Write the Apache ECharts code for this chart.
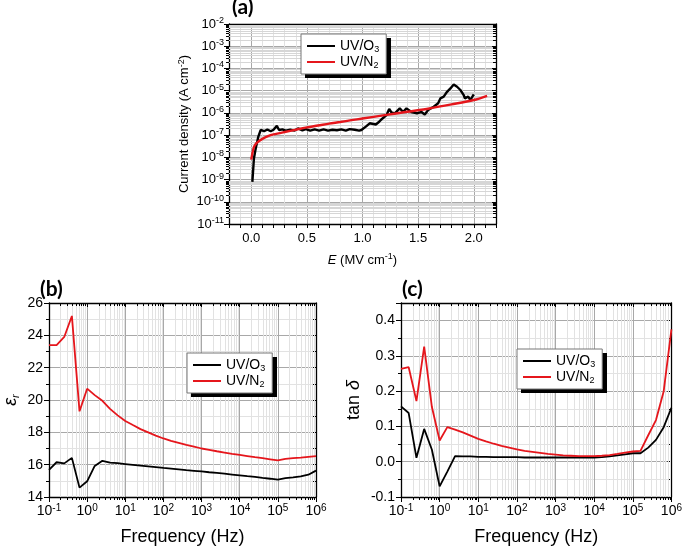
<!DOCTYPE html>
<html><head><meta charset="utf-8">
<script src="https://cdn.jsdelivr.net/npm/echarts@6/dist/echarts.min.js"></script>
<style>html,body{margin:0;padding:0;background:#fff}#c{width:685px;height:547px}</style>
</head><body><div id="c"></div>
<script>
// ---------- DATA ----------
const seriesNames = ['UV/O3', 'UV/N2'];
// Panel (a): current density vs field
const eO3 = [0.01,0.024,0.04,0.063,0.085,0.115,0.145,0.175,0.2,0.23,0.25,0.28,0.31,0.35,0.39,0.42,0.46,0.49,0.53,0.57,0.61,0.65,0.69,0.73,0.77,0.81,0.85,0.885,0.93,0.97,0.99,1.03,1.065,1.08,1.12,1.15,1.18,1.215,1.24,1.26,1.29,1.335,1.365,1.395,1.44,1.49,1.53,1.56,1.59,1.64,1.68,1.70,1.73,1.76,1.79,1.82,1.85,1.88,1.91,1.92,1.95,1.97,2.0];
const jO3 = [7.9e-10,8.9e-9,2.5e-8,8.3e-8,1.7e-7,1.5e-7,1.8e-7,1.5e-7,1.75e-7,2.6e-7,1.7e-7,1.8e-7,1.6e-7,1.75e-7,1.6e-7,2.0e-7,1.65e-7,1.85e-7,1.6e-7,1.8e-7,1.6e-7,1.8e-7,1.6e-7,1.75e-7,1.65e-7,1.8e-7,1.6e-7,1.85e-7,1.75e-7,1.6e-7,1.7e-7,2.4e-7,3.4e-7,3.7e-7,3.0e-7,4.0e-7,5.6e-7,7.9e-7,1.5e-6,1.05e-6,9.5e-7,1.6e-6,1.1e-6,1.6e-6,1.1e-6,9.5e-7,1.1e-6,8.5e-7,1.35e-6,1.9e-6,2.7e-6,4.5e-6,5.4e-6,8.9e-6,1.26e-5,1.9e-5,1.5e-5,1.07e-5,6.3e-6,4.5e-6,5.4e-6,3.8e-6,6.8e-6];
const eN2 = [0.0,0.02,0.04,0.07,0.1,0.15,0.2,0.3,0.4,0.5,0.6,0.7,0.8,0.9,1.0,1.2,1.4,1.6,1.8,2.0,2.12];
const jN2 = [7.9e-9,2.5e-8,4.0e-8,5.4e-8,6.8e-8,8.9e-8,1.07e-7,1.38e-7,1.74e-7,2.24e-7,2.7e-7,3.3e-7,3.9e-7,4.7e-7,5.6e-7,7.9e-7,1.12e-6,1.58e-6,2.4e-6,3.8e-6,5.9e-6];
// Panels (b), (c): frequency sweep
const freq = [0.1,0.158,0.251,0.398,0.631,1,1.58,2.51,3.98,6.31,10,15.8,25.1,39.8,63.1,100,158,251,398,631,1e3,1.58e3,2.51e3,3.98e3,6.31e3,1e4,1.58e4,2.51e4,3.98e4,6.31e4,1e5,1.58e5,2.51e5,3.98e5,6.31e5,1e6];
const epsO3 = [15.68,16.15,16.08,16.42,14.58,14.97,15.92,16.24,16.13,16.09,16.04,15.99,15.94,15.9,15.85,15.8,15.76,15.71,15.66,15.62,15.58,15.53,15.49,15.44,15.39,15.34,15.29,15.24,15.18,15.13,15.07,15.17,15.22,15.28,15.38,15.63];
const epsN2 = [23.4,23.4,23.9,25.2,19.3,20.7,20.3,19.95,19.45,19.05,18.7,18.45,18.2,18.0,17.8,17.62,17.47,17.35,17.23,17.12,17.0,16.92,16.83,16.75,16.67,16.6,16.53,16.46,16.4,16.33,16.26,16.36,16.4,16.43,16.48,16.53];
const tanO3 = [0.157,0.138,0.011,0.093,0.034,-0.07,-0.028,0.016,0.015,0.015,0.014,0.014,0.013,0.013,0.013,0.013,0.012,0.012,0.012,0.012,0.012,0.012,0.012,0.012,0.012,0.012,0.013,0.015,0.018,0.021,0.024,0.024,0.04,0.062,0.098,0.153];
const tanN2 = [0.263,0.268,0.172,0.326,0.155,0.06,0.098,0.091,0.083,0.074,0.065,0.058,0.051,0.045,0.040,0.035,0.031,0.028,0.025,0.022,0.020,0.018,0.017,0.016,0.016,0.016,0.017,0.019,0.022,0.026,0.029,0.031,0.075,0.118,0.2,0.375];
// log-axis minor tick multipliers
const minorMultipliers = [2,3,4,5,6,7,8,9];

// ---------- CHART ----------
const F = '"Liberation Sans", Arial, Helvetica, sans-serif';
const BLACK = '#000', RED = '#e5161c';
const GMAJ = '#a8a8a8', GMIN = '#e2e2e2';
const zip = (a, b) => a.map((v, i) => [v, b[i]]);
const powFmt = v => '10{sup|' + Math.round(Math.log10(v)) + '}';
const supRich = fs => ({ sup: { fontSize: fs, verticalAlign: 'top', lineHeight: fs, fontFamily: F, color: '#000' } });

function minorVals(lo, hi) {
  const out = [];
  for (let n = lo; n < hi; n++) for (const m of minorMultipliers) out.push(m * Math.pow(10, n));
  return out;
}
function vMinor(params, api) {
  const cs = params.coordSys;
  const x = Math.round(api.coord([api.value(0), api.value(1)])[0]) + 0.5;
  const b = cs.y + cs.height, t = cs.y;
  return { type: 'group', children: [
    { type: 'line', shape: { x1: x, y1: t, x2: x, y2: b }, style: { stroke: GMIN, lineWidth: 1 } },
    { type: 'line', shape: { x1: x, y1: b, x2: x, y2: b + 3 }, style: { stroke: '#000', lineWidth: 1 } },
    { type: 'line', shape: { x1: x, y1: t, x2: x, y2: t + 3 }, style: { stroke: '#000', lineWidth: 1 } }
  ]};
}
function hMinor(params, api) {
  const cs = params.coordSys;
  const y = Math.round(api.coord([api.value(0), api.value(1)])[1]) + 0.5;
  const l = cs.x, r = cs.x + cs.width;
  return { type: 'group', children: [
    { type: 'line', shape: { x1: l, y1: y, x2: r, y2: y }, style: { stroke: '#d6d6d6', lineWidth: 1 } },
    { type: 'line', shape: { x1: l - 3, y1: y, x2: l, y2: y }, style: { stroke: '#000', lineWidth: 1 } },
    { type: 'line', shape: { x1: r - 3, y1: y, x2: r, y2: y }, style: { stroke: '#000', lineWidth: 1 } }
  ]};
}

const axisLine = { show: true, onZero: false, lineStyle: { color: '#000', width: 1.3 } };
const mirror = (extra) => Object.assign({
  axisLine: axisLine, axisTick: { show: true, inside: true, length: 4, lineStyle: { color: '#000' } },
  axisLabel: { show: false }, splitLine: { show: false }
}, extra);

const legendBase = {
  orient: 'vertical', data: seriesNames, backgroundColor: '#fff', borderColor: '#777', borderWidth: 1,
  padding: [4, 7, 4, 6], itemGap: 0, itemWidth: 28, itemHeight: 2, icon: 'rect', z: 10,
  formatter: n => n === 'UV/O3' ? 'UV/O{sub|3}' : 'UV/N{sub|2}',
  textStyle: { fontSize: 14, fontFamily: F, color: '#000', lineHeight: 16,
    rich: { sub: { fontSize: 9, lineHeight: 9, verticalAlign: 'bottom', fontFamily: F } } }
};
const legendBox = [[301, 34], [187, 353], [517, 349]];
const LEG_W = 86, LEG_H = 40, SHADOW = 4;

const titleStyle = { fontSize: 21, fontWeight: 'bold', fontFamily: 'Lato, "Open Sans", sans-serif', color: '#000' };

const option = {
  backgroundColor: '#fff',
  animation: false,
  title: [
    { text: '(a)', left: 232, top: -3, padding: 0, textStyle: titleStyle },
    { text: '(b)', left: 40, top: 279, padding: 0, textStyle: titleStyle },
    { text: '(c)', left: 402, top: 279, padding: 0, textStyle: titleStyle }
  ],
  legend: legendBox.map(p => Object.assign({}, legendBase, { left: p[0], top: p[1] })),
  graphic: legendBox.map(p => ({ type: 'rect', z: 8, silent: true,
    shape: { x: p[0] + SHADOW, y: p[1] + SHADOW, width: LEG_W, height: LEG_H }, style: { fill: '#000' } })),
  grid: [
    { left: 229, top: 24, right: 189, bottom: 323 },
    { left: 41, top: 303, right: 369, bottom: 42 },
    { left: 401, top: 303, right: 9, bottom: 42 }
  ],
  xAxis: [
    { gridIndex: 0, type: 'value', min: -0.2, max: 2.2, interval: 0.1,
      axisLine: axisLine, axisTick: { length: 4, lineStyle: { color: '#000' } },
      axisLabel: { fontSize: 13, fontFamily: F, color: '#000', margin: 8,
        formatter: v => Math.abs(v * 2 - Math.round(v * 2)) < 1e-6 ? v.toFixed(1) : '' },
      splitLine: { show: true, showMinLine: true, showMaxLine: true,
        lineStyle: { color: [GMIN, GMIN, GMAJ, GMIN, GMIN], width: 1 } },
      name: '{i|E} (MV cm{sup|-1})', nameLocation: 'middle', nameGap: 28,
      nameTextStyle: { fontSize: 13, fontFamily: F, color: '#000', lineHeight: 16,
        rich: Object.assign({ i: { fontStyle: 'italic', fontSize: 13, fontFamily: F } }, supRich(9)) } },
    mirror({ gridIndex: 0, type: 'value', min: -0.2, max: 2.2, interval: 0.1, position: 'top' }),
    { gridIndex: 1, type: 'log', logBase: 10, min: 0.1, max: 1e6, splitNumber: 7,
      axisLine: axisLine, axisTick: { length: 5, lineStyle: { color: '#000' } },
      axisLabel: { fontSize: 14, fontFamily: F, color: '#000', margin: 6, lineHeight: 17, formatter: powFmt, rich: supRich(10) },
      splitLine: { show: true, lineStyle: { color: GMAJ, width: 1 } },
      name: 'Frequency (Hz)', nameLocation: 'middle', nameGap: 31,
      nameTextStyle: { fontSize: 18, fontFamily: F, color: '#000' } },
    mirror({ gridIndex: 1, type: 'log', logBase: 10, min: 0.1, max: 1e6, splitNumber: 7, position: 'top' }),
    { gridIndex: 2, type: 'log', logBase: 10, min: 0.1, max: 1e6, splitNumber: 7,
      axisLine: axisLine, axisTick: { length: 5, lineStyle: { color: '#000' } },
      axisLabel: { fontSize: 14, fontFamily: F, color: '#000', margin: 6, lineHeight: 17, formatter: powFmt, rich: supRich(10) },
      splitLine: { show: true, lineStyle: { color: GMAJ, width: 1 } },
      name: 'Frequency (Hz)', nameLocation: 'middle', nameGap: 31,
      nameTextStyle: { fontSize: 18, fontFamily: F, color: '#000' } },
    mirror({ gridIndex: 2, type: 'log', logBase: 10, min: 0.1, max: 1e6, splitNumber: 7, position: 'top' })
  ],
  yAxis: [
    { gridIndex: 0, type: 'log', logBase: 10, min: 1e-11, max: 1e-2, splitNumber: 9,
      axisLine: axisLine, axisTick: { length: 5, lineStyle: { color: '#000' } },
      axisLabel: { fontSize: 13, fontFamily: F, color: '#000', margin: 5, lineHeight: 16, formatter: powFmt, rich: supRich(9) },
      splitLine: { show: true, lineStyle: { color: GMAJ, width: 1 } },
      name: 'Current density (A cm{sup|-2})', nameLocation: 'middle', nameGap: 36,
      nameTextStyle: { fontSize: 13, fontFamily: F, color: '#000', lineHeight: 16, rich: supRich(9) } },
    mirror({ gridIndex: 0, type: 'log', logBase: 10, min: 1e-11, max: 1e-2, splitNumber: 9, position: 'right' }),
    { gridIndex: 1, type: 'value', min: 14, max: 26, interval: 2,
      axisLine: axisLine, axisTick: { length: 5, lineStyle: { color: '#000' } },
      minorTick: { show: true, splitNumber: 2, length: 3, lineStyle: { color: '#000' } },
      minorSplitLine: { show: true, lineStyle: { color: GMIN } },
      axisLabel: { fontSize: 14, fontFamily: F, color: '#000', margin: 6 },
      splitLine: { show: true, lineStyle: { color: GMAJ, width: 1 } },
      name: '{i|ε}{sub|r}', nameLocation: 'middle', nameGap: 28,
      nameTextStyle: { fontSize: 18, fontFamily: F, color: '#000', lineHeight: 20,
        rich: { i: { fontStyle: 'italic', fontSize: 18, fontFamily: F }, sub: { fontStyle: 'italic', fontSize: 11, lineHeight: 11, verticalAlign: 'bottom', fontFamily: F } } } },
    mirror({ gridIndex: 1, type: 'value', min: 14, max: 26, interval: 2, position: 'right',
      minorTick: { show: true, splitNumber: 2, length: 3, lineStyle: { color: '#000' } } }),
    { gridIndex: 2, type: 'value', min: -0.1, max: 0.45, interval: 0.1,
      axisLine: axisLine, axisTick: { length: 5, lineStyle: { color: '#000' } },
      minorTick: { show: true, splitNumber: 2, length: 3, lineStyle: { color: '#000' } },
      minorSplitLine: { show: true, lineStyle: { color: GMIN } },
      axisLabel: { fontSize: 14, fontFamily: F, color: '#000', margin: 6,
        formatter: v => Math.abs(v * 10 - Math.round(v * 10)) < 1e-6 ? v.toFixed(1) : '' },
      splitLine: { show: true, lineStyle: { color: GMAJ, width: 1 } },
      name: 'tan {i|δ}', nameLocation: 'middle', nameGap: 38,
      nameTextStyle: { fontSize: 18, fontFamily: F, color: '#000',
        rich: { i: { fontStyle: 'italic', fontSize: 18, fontFamily: F } } } },
    mirror({ gridIndex: 2, type: 'value', min: -0.1, max: 0.45, interval: 0.1, position: 'right',
      minorTick: { show: true, splitNumber: 2, length: 3, lineStyle: { color: '#000' } } })
  ],
  series: [
    { type: 'custom', xAxisIndex: 0, yAxisIndex: 0, silent: true, clip: false, z: 1,
      renderItem: hMinor, data: minorVals(-11, -2).map(v => [1, v]) },
    { type: 'custom', xAxisIndex: 2, yAxisIndex: 2, silent: true, clip: false, z: 1,
      renderItem: vMinor, data: minorVals(-1, 6).map(v => [v, 20]) },
    { type: 'custom', xAxisIndex: 4, yAxisIndex: 4, silent: true, clip: false, z: 1,
      renderItem: vMinor, data: minorVals(-1, 6).map(v => [v, 0]) },
    { name: 'UV/O3', type: 'line', xAxisIndex: 0, yAxisIndex: 0, data: zip(eO3, jO3), symbol: 'none', z: 3,
      lineStyle: { color: BLACK, width: 2.4 }, itemStyle: { color: BLACK } },
    { name: 'UV/N2', type: 'line', xAxisIndex: 0, yAxisIndex: 0, data: zip(eN2, jN2), symbol: 'none', smooth: 0.3, z: 4,
      lineStyle: { color: RED, width: 2.4 }, itemStyle: { color: RED } },
    { name: 'UV/O3', type: 'line', xAxisIndex: 2, yAxisIndex: 2, data: zip(freq, epsO3), symbol: 'none', z: 3,
      lineStyle: { color: BLACK, width: 1.8 }, itemStyle: { color: BLACK } },
    { name: 'UV/N2', type: 'line', xAxisIndex: 2, yAxisIndex: 2, data: zip(freq, epsN2), symbol: 'none', z: 3,
      lineStyle: { color: RED, width: 1.8 }, itemStyle: { color: RED } },
    { name: 'UV/O3', type: 'line', xAxisIndex: 4, yAxisIndex: 4, data: zip(freq, tanO3), symbol: 'none', z: 3,
      lineStyle: { color: BLACK, width: 1.8 }, itemStyle: { color: BLACK } },
    { name: 'UV/N2', type: 'line', xAxisIndex: 4, yAxisIndex: 4, data: zip(freq, tanN2), symbol: 'none', z: 3,
      lineStyle: { color: RED, width: 1.8 }, itemStyle: { color: RED } }
  ]
};
const chart = echarts.init(document.getElementById('c'), null, { renderer: 'canvas', width: 685, height: 547 });
chart.setOption(option);
</script></body></html>
